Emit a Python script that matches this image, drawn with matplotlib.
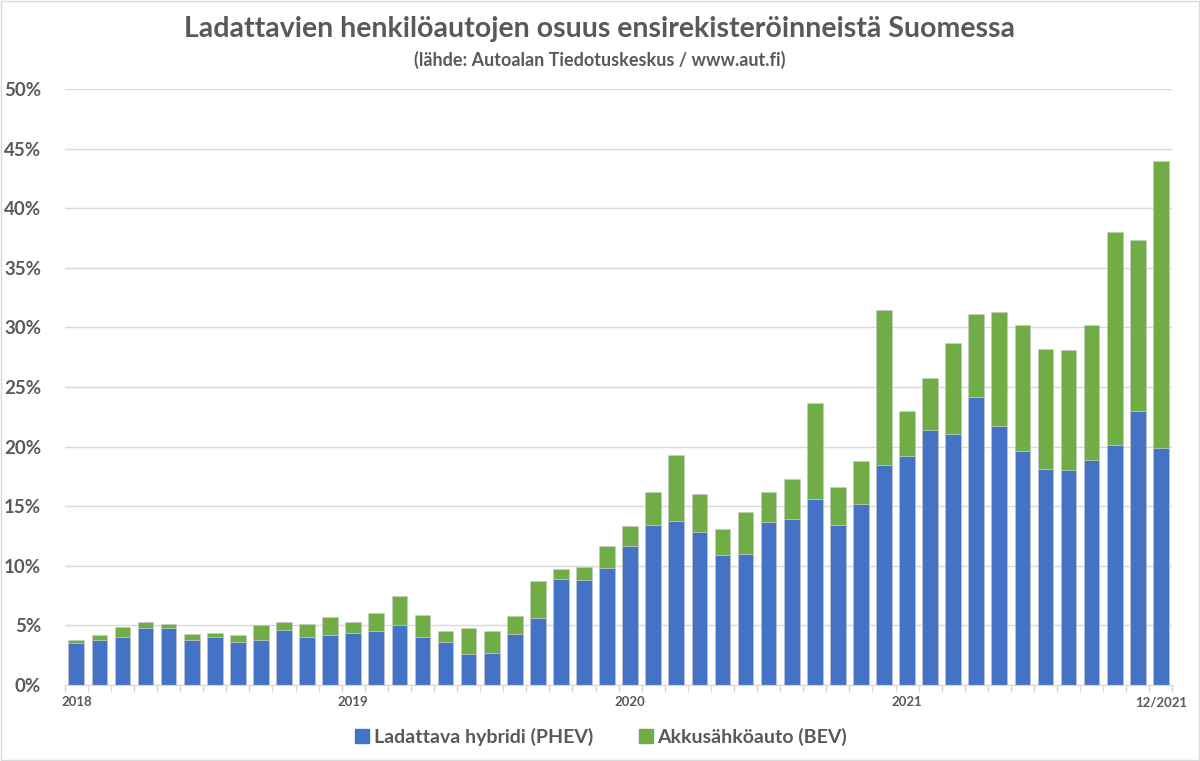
import numpy as np
import matplotlib.pyplot as plt
from matplotlib.lines import Line2D
from matplotlib.patches import Rectangle

plt.rcParams['font.family'] = ['Lato', 'DejaVu Sans']

GREY = "#595959"
BLUE = "#4472C4"
GREEN = "#70AD47"

# monthly shares (%), 01/2018 .. 12/2021
total = [3.8, 4.2, 4.9, 5.3, 5.1, 4.3, 4.4, 4.2, 5.0, 5.3, 5.1, 5.7,
         5.3, 6.0, 7.5, 5.9, 4.5, 4.8, 4.5, 5.8, 8.7, 9.7, 9.9, 11.7,
         13.3, 16.2, 19.3, 16.0, 13.1, 14.5, 16.2, 17.3, 23.7, 16.6, 18.8, 31.5,
         23.0, 25.8, 28.7, 31.1, 31.3, 30.2, 28.2, 28.1, 30.2, 38.0, 37.3, 44.0]
phev = [3.5, 3.8, 4.0, 4.8, 4.8, 3.8, 4.0, 3.6, 3.8, 4.6, 4.0, 4.2,
        4.4, 4.5, 5.0, 4.0, 3.6, 2.6, 2.7, 4.3, 5.6, 8.9, 8.8, 9.8,
        11.7, 13.4, 13.8, 12.8, 10.9, 11.0, 13.7, 13.9, 15.6, 13.4, 15.2, 18.5,
        19.2, 21.4, 21.1, 24.2, 21.7, 19.6, 18.1, 18.0, 18.9, 20.1, 23.0, 19.9]
bev = [t - p for t, p in zip(total, phev)]

xlabels = {0: "2018", 12: "2019", 24: "2020", 36: "2021", 47: "12/2021"}

fig = plt.figure(figsize=(12, 7.61), dpi=100)
ax = fig.add_axes([0.054, 0.0999, 0.923, 0.783])

x = np.arange(len(total))
ax.bar(x, phev, width=0.68, color=BLUE, edgecolor="#c8c8c8", linewidth=0.4, zorder=3)
ax.bar(x, bev, width=0.68, bottom=phev, color=GREEN, edgecolor="#c8c8c8", linewidth=0.4, zorder=3)

ax.set_xlim(-0.5, len(total) - 0.5)
ax.set_ylim(0, 50)
ax.set_yticks(np.arange(0, 51, 5))
ax.set_yticklabels([f"{v}%" for v in range(0, 51, 5)])
ax.yaxis.grid(True, color="#d9d9d9", linewidth=1, zorder=0)
ax.tick_params(axis="y", length=0, pad=17, labelsize=13.5, labelcolor=GREY)
for lbl in ax.get_yticklabels():
    lbl.set_fontweight("bold")

ax.set_xticks(list(xlabels.keys()))
ax.set_xticklabels(list(xlabels.values()), fontweight="bold", fontsize=9.5, color=GREY)
ax.tick_params(axis="x", length=0, pad=8)
ax.set_xticks(np.arange(-0.5, len(total), 1), minor=True)
ax.tick_params(axis="x", which="minor", length=5, color="#d9d9d9", width=1)

for s in ["top", "right", "left"]:
    ax.spines[s].set_visible(False)
ax.spines["bottom"].set_color("#d9d9d9")
ax.spines["bottom"].set_zorder(4)

fig.text(0.5, 0.962, "Ladattavien henkilöautojen osuus ensirekisteröinneistä Suomessa",
         ha="center", va="center", fontsize=20.5, fontweight="bold", color=GREY)
fig.text(0.5, 0.921, "(lähde: Autoalan Tiedotuskeskus / www.aut.fi)",
         ha="center", va="center", fontsize=13, fontweight="bold", color=GREY)

handles = [Line2D([], [], marker="s", linestyle="none", markersize=10, color=BLUE),
           Line2D([], [], marker="s", linestyle="none", markersize=10, color=GREEN)]
fig.legend(handles, ["Ladattava hybridi (PHEV)", "Akkusähköauto (BEV)"],
           loc="center", bbox_to_anchor=(0.5, 0.032), ncol=2, frameon=False,
           handletextpad=0.1, columnspacing=2.2, handlelength=1.0,
           prop={"size": 14, "weight": "bold"}, labelcolor=GREY)

fig.patches.append(Rectangle((0.001, 0.001), 0.998, 0.998, transform=fig.transFigure,
                             fill=False, edgecolor="#d9d9d9", linewidth=1))

fig.savefig("out.png", dpi=100)
